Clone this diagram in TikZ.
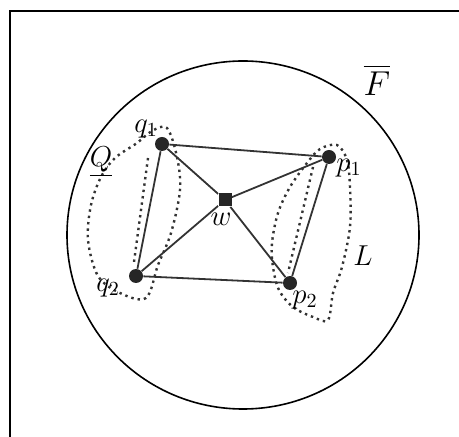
\documentclass[tikz,border=0pt]{standalone}
\usepackage{amsmath}
\usepackage{tikz}

\begin{document}
\begin{tikzpicture}[x=0.5pt,y=-0.5pt,
  vtx/.style={circle,fill=black!85,inner sep=0pt,minimum size=7pt},
  ctr/.style={rectangle,fill=black!85,inner sep=0pt,minimum size=6.5pt},
  lbl/.style={font=\Large},
  seg/.style={line width=0.9pt,black!80},
  bdry/.style={dotted,line width=1.2pt,black!80}]
\useasboundingbox (0,0) rectangle (459,437);
% frame and big circle
\draw[line width=1pt] (10,437) -- (10,11) -- (459,11);
\draw[line width=0.8pt] (243,235) ellipse [x radius=176, y radius=174];
% points
\node[vtx] (q1) at (162,144) {};
\node[vtx] (p1) at (329,157) {};
\node[ctr] (w)  at (225,200) {};
\node[vtx] (q2) at (136,276) {};
\node[vtx] (p2) at (290,283) {};
% segments
\draw[seg] (q1) -- (p1) -- (p2) -- (q2) -- (q1);
\draw[seg] (q1) -- (w) -- (p2);
\draw[seg] (q2) -- (w) -- (p1);
% dotted regions Q and L
\draw[bdry] plot[smooth cycle, tension=0.55] coordinates {(167,128) (177,157) (180,190) (171,233) (158,265) (146,298) (120,293) (98,276) (88,240) (91,205) (101,177) (115,158) (137,143) (152,131)};
\draw[bdry] (148,158) -- (134,262);
\draw[bdry] plot[smooth cycle, tension=0.55] coordinates {(337,145) (347,160) (350,187) (350,227) (342,267) (333,293) (328,320) (313,317) (293,307) (279,290) (273,267) (272,243) (278,213) (290,187) (307,163) (320,149)};
\draw[bdry] (313,167) -- (288,273);
% labels
\node[lbl] (lq1) at (146,129) {$q_1$};
\node[lbl] (lp1) at (349,168) {$p_1$};
\node[lbl] (lw)  at (221,219) {$w$};
\node[lbl] (lq2) at (108,288) {$q_2$};
\node[lbl] (lp2) at (305,300) {$p_2$};
\node[lbl] (lL)  at (363,256) {$L$};
\node[lbl] (lQ)  at (101,162) {$\underline{Q}$};
\node[font=\LARGE] (lF) at (377,80) {$\overline{F}$};
\end{tikzpicture}
\end{document}
